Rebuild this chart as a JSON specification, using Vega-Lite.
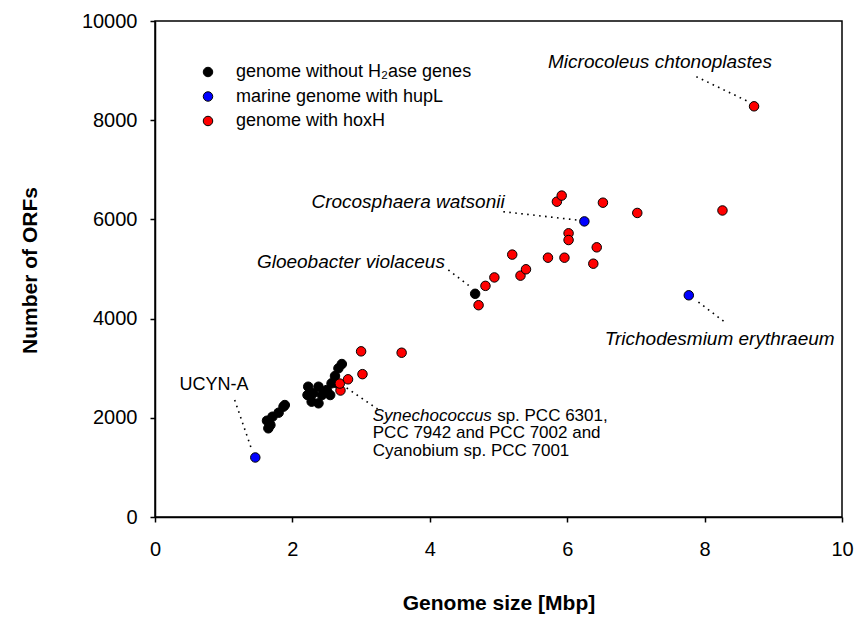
{
  "$schema": "https://vega.github.io/schema/vega-lite/v6.json",
  "width": 687,
  "height": 496,
  "autosize": {"type": "none"},
  "padding": {"left": 155, "top": 21, "right": 13, "bottom": 102},
  "background": "white",
  "config": {
    "font": "Liberation Sans",
    "view": {"stroke": "black", "strokeWidth": 1.5},
    "axis": {
      "grid": false,
      "domainColor": "black",
      "domainWidth": 1.5,
      "tickColor": "black",
      "tickWidth": 1.5,
      "tickSize": 5,
      "labelFont": "Liberation Sans",
      "labelFontSize": 20,
      "labelColor": "black",
      "labelFlush": false,
      "labelOverlap": false,
      "titleFont": "Liberation Sans",
      "titleFontSize": 21,
      "titleFontWeight": "bold",
      "titleColor": "black"
    }
  },
  "datasets": {
    "points": [
      {"x": 1.65, "y": 1788, "group": "genome without H₂ase genes"},
      {"x": 1.63, "y": 1941, "group": "genome without H₂ase genes"},
      {"x": 1.68, "y": 1855, "group": "genome without H₂ase genes"},
      {"x": 1.71, "y": 2022, "group": "genome without H₂ase genes"},
      {"x": 1.80, "y": 2103, "group": "genome without H₂ase genes"},
      {"x": 1.87, "y": 2224, "group": "genome without H₂ase genes"},
      {"x": 1.89, "y": 2257, "group": "genome without H₂ase genes"},
      {"x": 2.23, "y": 2627, "group": "genome without H₂ase genes"},
      {"x": 2.22, "y": 2459, "group": "genome without H₂ase genes"},
      {"x": 2.28, "y": 2325, "group": "genome without H₂ase genes"},
      {"x": 2.30, "y": 2493, "group": "genome without H₂ase genes"},
      {"x": 2.38, "y": 2292, "group": "genome without H₂ase genes"},
      {"x": 2.43, "y": 2459, "group": "genome without H₂ase genes"},
      {"x": 2.38, "y": 2627, "group": "genome without H₂ase genes"},
      {"x": 2.50, "y": 2560, "group": "genome without H₂ase genes"},
      {"x": 2.55, "y": 2459, "group": "genome without H₂ase genes"},
      {"x": 2.57, "y": 2695, "group": "genome without H₂ase genes"},
      {"x": 2.65, "y": 2695, "group": "genome without H₂ase genes"},
      {"x": 2.62, "y": 2842, "group": "genome without H₂ase genes"},
      {"x": 2.67, "y": 2997, "group": "genome without H₂ase genes"},
      {"x": 2.72, "y": 3084, "group": "genome without H₂ase genes"},
      {"x": 4.66, "y": 4500, "group": "genome without H₂ase genes"},
      {"x": 1.46, "y": 1200, "group": "marine genome with hupL"},
      {"x": 6.25, "y": 5960, "group": "marine genome with hupL"},
      {"x": 7.77, "y": 4470, "group": "marine genome with hupL"},
      {"x": 2.70, "y": 2550, "group": "genome with hoxH"},
      {"x": 2.69, "y": 2690, "group": "genome with hoxH"},
      {"x": 2.81, "y": 2776, "group": "genome with hoxH"},
      {"x": 3.02, "y": 2880, "group": "genome with hoxH"},
      {"x": 3.00, "y": 3340, "group": "genome with hoxH"},
      {"x": 3.59, "y": 3312, "group": "genome with hoxH"},
      {"x": 4.71, "y": 4270, "group": "genome with hoxH"},
      {"x": 4.81, "y": 4660, "group": "genome with hoxH"},
      {"x": 4.94, "y": 4830, "group": "genome with hoxH"},
      {"x": 5.20, "y": 5290, "group": "genome with hoxH"},
      {"x": 5.32, "y": 4866, "group": "genome with hoxH"},
      {"x": 5.40, "y": 4994, "group": "genome with hoxH"},
      {"x": 5.72, "y": 5228, "group": "genome with hoxH"},
      {"x": 5.96, "y": 5228, "group": "genome with hoxH"},
      {"x": 5.85, "y": 6357, "group": "genome with hoxH"},
      {"x": 5.92, "y": 6480, "group": "genome with hoxH"},
      {"x": 6.02, "y": 5720, "group": "genome with hoxH"},
      {"x": 6.02, "y": 5584, "group": "genome with hoxH"},
      {"x": 6.38, "y": 5107, "group": "genome with hoxH"},
      {"x": 6.43, "y": 5437, "group": "genome with hoxH"},
      {"x": 6.52, "y": 6337, "group": "genome with hoxH"},
      {"x": 7.02, "y": 6130, "group": "genome with hoxH"},
      {"x": 8.26, "y": 6180, "group": "genome with hoxH"},
      {"x": 8.72, "y": 8280, "group": "genome with hoxH"}
    ],
    "leaders": [
      {"x": 7.88, "y": 8877, "x2": 8.64, "y2": 8373},
      {"x": 5.07, "y": 6155, "x2": 6.14, "y2": 5988},
      {"x": 4.27, "y": 4980, "x2": 4.59, "y2": 4643},
      {"x": 7.91, "y": 4334, "x2": 8.28, "y2": 3943},
      {"x": 1.16, "y": 2359, "x2": 1.41, "y2": 1351},
      {"x": 2.79, "y": 2601, "x2": 3.24, "y2": 2177}
    ],
    "italicCenter": [
      {"x": 7.35, "y": 9173, "label": "Microcoleus chtonoplastes"},
      {"x": 8.22, "y": 3582, "label": "Trichodesmium erythraeum"}
    ],
    "italicRight": [
      {"x": 5.09, "y": 6357, "label": "Crocosphaera watsonii"},
      {"x": 4.22, "y": 5147, "label": "Gloeobacter violaceus"}
    ],
    "italicLeft": [
      {"x": 3.17, "y": 2040, "label": "Synechococcus"}
    ],
    "plainLeft": [
      {"x": 4.98, "y": 2040, "label": "sp. PCC 6301,"},
      {"x": 3.17, "y": 1687, "label": "PCC 7942 and PCC 7002 and"},
      {"x": 3.17, "y": 1334, "label": "Cyanobium sp. PCC 7001"}
    ],
    "plainCenter": [
      {"x": 0.86, "y": 2661, "label": "UCYN-A"}
    ]
  },
  "encoding": {
    "x": {
      "field": "x",
      "type": "quantitative",
      "scale": {"domain": [0, 10], "nice": false, "zero": false},
      "axis": {
        "title": "Genome size [Mbp]",
        "values": [0, 2, 4, 6, 8, 10],
        "labelPadding": 17,
        "titleY": 86,
        "titleBaseline": "middle"
      }
    },
    "y": {
      "field": "y",
      "type": "quantitative",
      "scale": {"domain": [0, 10000], "nice": false, "zero": false},
      "axis": {
        "title": "Number of ORFs",
        "values": [0, 2000, 4000, 6000, 8000, 10000],
        "format": "d",
        "labelPadding": 13,
        "titleX": -125,
        "titleY": 249,
        "titleBaseline": "middle",
        "titleAngle": -90
      }
    }
  },
  "layer": [
    {
      "data": {"name": "leaders"},
      "mark": {"type": "rule", "color": "black", "strokeWidth": 1.6, "strokeDash": [1.6, 4.4]},
      "encoding": {
        "x2": {"field": "x2"},
        "y2": {"field": "y2"}
      }
    },
    {
      "data": {"name": "points"},
      "mark": {"type": "circle", "size": 90, "stroke": "black", "strokeWidth": 1, "opacity": 1},
      "encoding": {
        "fill": {
          "field": "group",
          "type": "nominal",
          "scale": {
            "domain": ["genome without H₂ase genes", "marine genome with hupL", "genome with hoxH"],
            "range": ["#000000", "#0000FF", "#FF0000"]
          },
          "legend": {
            "orient": "none",
            "legendX": 44,
            "legendY": 42,
            "title": null,
            "padding": 0,
            "labelFontSize": 18,
            "labelLimit": 0,
            "labelColor": "black",
            "labelOffset": 19,
            "rowPadding": 6.5,
            "symbolType": "circle",
            "symbolSize": 90,
            "symbolStrokeColor": "black",
            "symbolStrokeWidth": 1
          }
        }
      }
    },
    {
      "data": {"name": "italicCenter"},
      "mark": {"type": "text", "fontStyle": "italic", "fontSize": 19, "align": "center", "baseline": "middle", "color": "black"},
      "encoding": {"text": {"field": "label"}}
    },
    {
      "data": {"name": "italicRight"},
      "mark": {"type": "text", "fontStyle": "italic", "fontSize": 19, "align": "right", "baseline": "middle", "color": "black"},
      "encoding": {"text": {"field": "label"}}
    },
    {
      "data": {"name": "italicLeft"},
      "mark": {"type": "text", "fontStyle": "italic", "fontSize": 17, "align": "left", "baseline": "middle", "color": "black"},
      "encoding": {"text": {"field": "label"}}
    },
    {
      "data": {"name": "plainLeft"},
      "mark": {"type": "text", "fontSize": 17, "align": "left", "baseline": "middle", "color": "black"},
      "encoding": {"text": {"field": "label"}}
    },
    {
      "data": {"name": "plainCenter"},
      "mark": {"type": "text", "fontSize": 18, "align": "center", "baseline": "middle", "color": "black"},
      "encoding": {"text": {"field": "label"}}
    }
  ]
}
